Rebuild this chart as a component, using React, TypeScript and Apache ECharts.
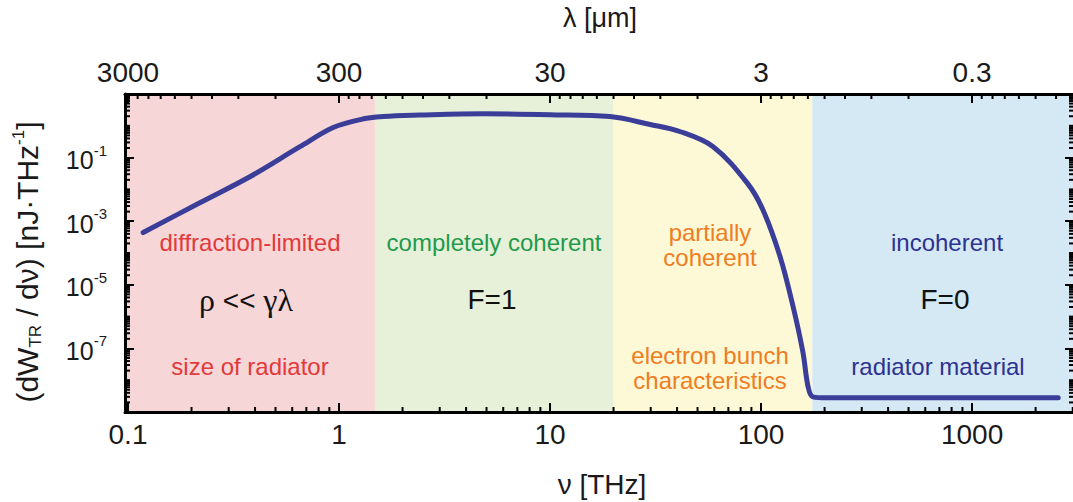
import React, { useEffect, useRef } from "react";
import * as echarts from "echarts";

// ---- data ----
const nuTHz = [0.118, 0.219, 0.378, 0.653, 0.938, 1.26, 1.62, 2.4, 4.8, 10, 19.2, 29.8, 41.5, 59.3, 85.9, 102, 123, 142, 158, 167, 176, 206, 400, 1000, 2560];
const dWdnu = [4.4e-4, 3.8e-3, 0.025, 0.22, 0.88, 1.57, 1.95, 2.17, 2.4, 2.24, 1.95, 1.1, 0.65, 0.22, 0.016, 2.3e-3, 7.8e-5, 2.0e-6, 7.4e-8, 6.3e-9, 3.0e-9, 2.8e-9, 2.8e-9, 2.8e-9, 2.8e-9];

const regionEdgesTHz = [0.0968, 1.48, 19.9, 175, 3040];
const regionColors = ["#f6d6d7", "#e7f0d8", "#fdf8d6", "#d4e9f4"];

const nuTickValues = [0.1, 1, 10, 100, 1000];
const nuTickLabels = ["0.1", "1", "10", "100", "1000"];
const lambdaTickLabels = ["3000", "300", "30", "3", "0.3"];
const yTickExponents = [-1, -3, -5, -7];

const X_LOG_MIN = -1.0142;
const X_LOG_MAX = 3.483;
const Y_LOG_MIN = -9;
const Y_LOG_MAX = 1;

const FONT = "'Liberation Sans', Arial, sans-serif";

const lg = Math.log10;

function bottomMinor(): number[] {
  const out: number[] = [];
  for (let m = -2; m <= 4; m++) for (let k = 2; k <= 9; k++) out.push(m + lg(k));
  return out.filter((v) => v > X_LOG_MIN && v < X_LOG_MAX);
}
function topMinor(): number[] {
  const out: number[] = [];
  for (let m = -1; m <= 5; m++) for (let k = 2; k <= 9; k++) out.push(m - lg(k));
  return out.filter((v) => v > X_LOG_MIN && v < X_LOG_MAX);
}
function yMinor(): number[] {
  const out: number[] = [];
  for (let m = -10; m <= 1; m++) {
    if (m % 2 === 0) out.push(m);
    for (let k = 2; k <= 9; k++) out.push(m + lg(k));
  }
  return out.filter((v) => v > Y_LOG_MIN && v < Y_LOG_MAX);
}

export default function App() {
  const ref = useRef<HTMLDivElement>(null);
  useEffect(() => {
    if (!ref.current) return;
    const chart = echarts.init(ref.current, undefined, { renderer: "svg" });

    const majorLen = 9;
    const minorLen = 5;
    const tickStyle = { color: "#000", width: 2 };
    const lineStyle = { color: "#000", width: 3 };
    const majorX = nuTickValues.map((v) => lg(v));

    const xCommon = { type: "value", min: X_LOG_MIN, max: X_LOG_MAX, splitLine: { show: false }, z: 10 };
    const yCommon = { type: "value", min: Y_LOG_MIN, max: Y_LOG_MAX, splitLine: { show: false }, z: 10 };

    const labelX = { fontFamily: FONT, fontSize: 28, color: "#1a1a1a" };

    const regionData = regionColors.map((c, i) => [
      { xAxis: lg(regionEdgesTHz[i]), itemStyle: { color: c } },
      { xAxis: lg(regionEdgesTHz[i + 1]) },
    ]);

    // minor tick items: [x, y, side]  side 0=bottom 1=top 2=left 3=right
    const minorTicks: number[][] = [
      ...bottomMinor().map((v) => [v, Y_LOG_MIN, 0]),
      ...topMinor().map((v) => [v, Y_LOG_MAX, 1]),
      ...yMinor().map((v) => [X_LOG_MIN, v, 2]),
      ...yMinor().map((v) => [X_LOG_MAX, v, 3]),
    ];

    const annotations = [
      { text: "diffraction-limited", x: 250, y: 242, color: "#e2393a" },
      { text: "size of radiator", x: 250, y: 366, color: "#e2393a" },
      { text: "completely coherent", x: 494, y: 242, color: "#1f9a4b" },
      { text: "partially\ncoherent", x: 710, y: 245, color: "#ef7d22" },
      { text: "electron bunch\ncharacteristics", x: 710, y: 368, color: "#ef7d22" },
      { text: "incoherent", x: 947, y: 242, color: "#2e3192" },
      { text: "radiator material", x: 938, y: 366, color: "#2e3192" },
    ];

    const option: any = {
      animation: false,
      backgroundColor: "#ffffff",
      grid: { left: 125, top: 94, right: -1, bottom: 90, containLabel: false, outerBoundsMode: "none" },
      xAxis: [
        {
          ...xCommon,
          position: "bottom",
          axisLine: { show: true, onZero: false, lineStyle },
          axisTick: { show: true, inside: true, length: majorLen, lineStyle: tickStyle, customValues: majorX },
          axisLabel: {
            show: true,
            margin: 8,
            ...labelX,
            customValues: majorX,
            formatter: (v: number) => {
              const i = majorX.findIndex((m) => Math.abs(m - v) < 1e-6);
              return i >= 0 ? nuTickLabels[i] : "";
            },
          },
        },
        {
          ...xCommon,
          position: "top",
          axisLine: { show: true, onZero: false, lineStyle },
          axisTick: { show: true, inside: true, length: majorLen, lineStyle: tickStyle, customValues: majorX },
          axisLabel: {
            show: true,
            margin: 8,
            ...labelX,
            customValues: majorX,
            formatter: (v: number) => {
              const i = majorX.findIndex((m) => Math.abs(m - v) < 1e-6);
              return i >= 0 ? lambdaTickLabels[i] : "";
            },
          },
        },
      ],
      yAxis: [
        {
          ...yCommon,
          position: "left",
          axisLine: { show: true, onZero: false, lineStyle },
          axisTick: { show: true, inside: true, length: majorLen, lineStyle: tickStyle, customValues: yTickExponents },
          axisLabel: {
            show: true,
            margin: 18,
            customValues: yTickExponents,
            formatter: (v: number) => `{b|10}{s|${Math.round(v)}}`,
            rich: {
              b: { fontFamily: FONT, fontSize: 25, color: "#1a1a1a", lineHeight: 30, verticalAlign: "bottom" },
              s: { fontFamily: FONT, fontSize: 15, color: "#1a1a1a", lineHeight: 30, verticalAlign: "top" },
            },
          },
        },
        {
          ...yCommon,
          position: "right",
          axisLine: { show: true, onZero: false, lineStyle },
          axisTick: { show: true, inside: true, length: majorLen, lineStyle: tickStyle, customValues: yTickExponents },
          axisLabel: { show: false },
        },
      ],
      series: [
        {
          type: "line",
          xAxisIndex: 0,
          yAxisIndex: 0,
          data: nuTHz.map((n, i) => [lg(n), lg(dWdnu[i])]),
          smooth: 0.35,
          showSymbol: false,
          symbol: "none",
          lineStyle: { color: "#3b3e98", width: 5, cap: "round", join: "round" },
          markArea: { silent: true, data: regionData },
        },
        {
          type: "custom",
          xAxisIndex: 0,
          yAxisIndex: 0,
          silent: true,
          clip: false,
          z: 8,
          encode: { x: 0, y: 1 },
          data: minorTicks,
          renderItem: (params: any, api: any) => {
            const p = api.coord([api.value(0), api.value(1)]);
            const side = api.value(2);
            let x2 = p[0];
            let y2 = p[1];
            if (side === 0) y2 = p[1] - minorLen;
            else if (side === 1) y2 = p[1] + minorLen;
            else if (side === 2) x2 = p[0] + minorLen;
            else x2 = p[0] - minorLen;
            return {
              type: "line",
              shape: { x1: p[0], y1: p[1], x2, y2 },
              style: { stroke: "#000", lineWidth: 2 },
            };
          },
        },
      ],
      graphic: [
        ...annotations.map((a) => ({
          type: "text",
          x: a.x,
          y: a.y,
          z: 20,
          style: {
            text: a.text,
            fill: a.color,
            font: `24px ${FONT}`,
            align: "center",
            verticalAlign: "middle",
            lineHeight: 25,
          },
        })),
        {
          type: "text",
          x: 246,
          y: 300,
          z: 20,
          style: {
            text: "{g|ρ}{n| << }{g|γλ}",
            align: "center",
            verticalAlign: "middle",
            rich: {
              g: { fontFamily: "'Liberation Serif', serif", fontSize: 32, fill: "#111" },
              n: { fontFamily: FONT, fontSize: 28, fill: "#111" },
            },
          },
        },
        {
          type: "text",
          x: 492,
          y: 299,
          z: 20,
          style: { text: "F=1", font: `28px ${FONT}`, fill: "#111", align: "center", verticalAlign: "middle" },
        },
        {
          type: "text",
          x: 945,
          y: 299,
          z: 20,
          style: { text: "F=0", font: `28px ${FONT}`, fill: "#111", align: "center", verticalAlign: "middle" },
        },
        {
          type: "text",
          x: 600,
          y: 18,
          z: 20,
          style: { text: "λ [μm]", font: `27px ${FONT}`, fill: "#1a1a1a", align: "center", verticalAlign: "middle" },
        },
        {
          type: "text",
          x: 602,
          y: 484,
          z: 20,
          style: { text: "ν [THz]", font: `28px ${FONT}`, fill: "#1a1a1a", align: "center", verticalAlign: "middle" },
        },
        {
          type: "text",
          x: 27,
          y: 262,
          rotation: Math.PI / 2,
          z: 20,
          style: {
            text: "{a|(dW}{sub|TR}{a| / dν) [nJ·THz}{sup|-1}{a|]}",
            align: "center",
            verticalAlign: "middle",
            rich: {
              a: { fontFamily: FONT, fontSize: 30, fill: "#1a1a1a", lineHeight: 34, verticalAlign: "middle" },
              sub: { fontFamily: FONT, fontSize: 17, fill: "#1a1a1a", lineHeight: 34, verticalAlign: "bottom" },
              sup: { fontFamily: FONT, fontSize: 17, fill: "#1a1a1a", lineHeight: 34, verticalAlign: "top" },
            },
          },
        },
      ],
    };

    chart.setOption(option);
    return () => chart.dispose();
  }, []);

  return (
    <div
      ref={ref}
      style={{ position: "fixed", left: 0, top: 0, width: 1073, height: 502, overflow: "hidden" }}
    />
  );
}
